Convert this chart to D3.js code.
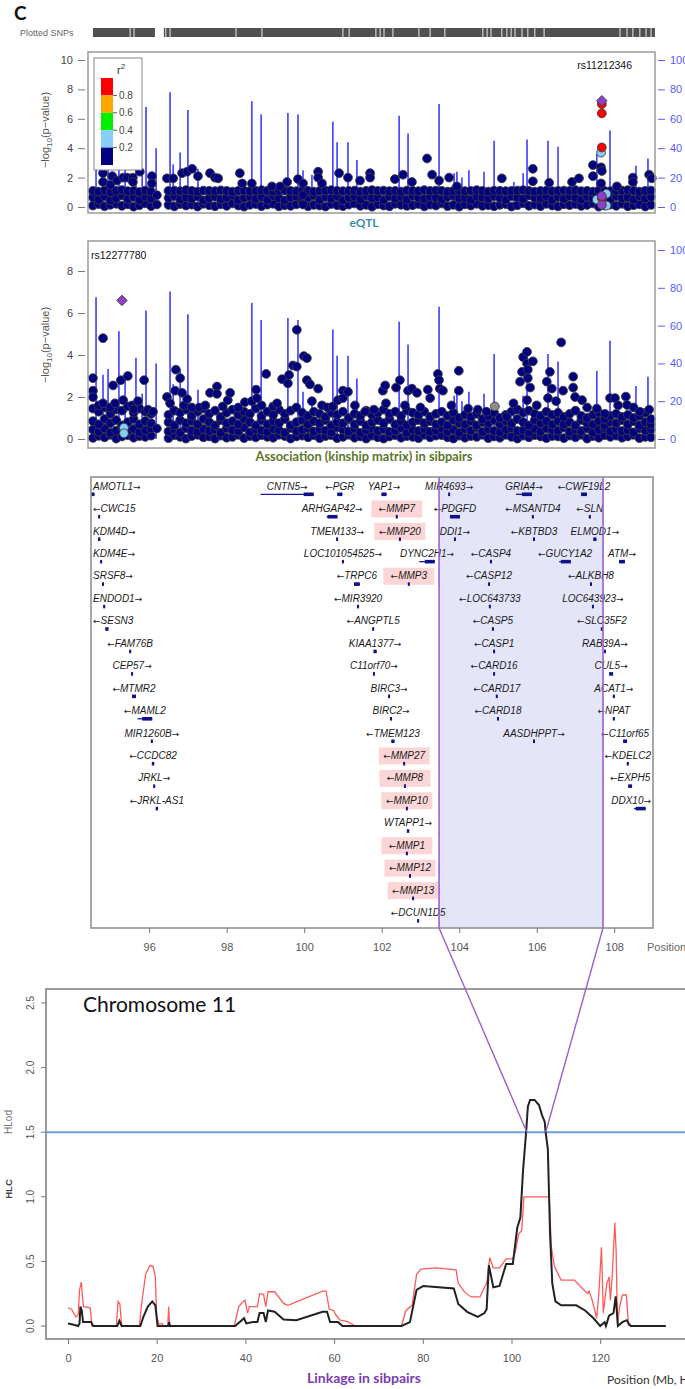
<!DOCTYPE html>
<html>
<head>
<meta charset="utf-8">
<script src="https://cdn.jsdelivr.net/npm/d3@7"></script>
<style>
body { margin: 0; background: #fff; }
svg { display: block; font-family: "Liberation Sans", Arial, sans-serif; }
</style>
</head>
<body>
<svg id="chart" width="685" height="1389"></svg>
<script>
// ---------- data ----------
// plotted SNP coverage strip (Mb)
var snpCover = [[94.55, 96.15], [96.38, 109.05]];
var snpBreaks = [95.51, 95.61, 96.43, 96.54, 98.24, 98.91, 101.0, 101.16, 101.85, 101.96, 102.06, 102.29,
  102.96, 103.25, 103.63, 104.61, 104.72, 104.82, 105.10, 105.23, 105.34, 105.44, 105.62, 105.77,
  105.95, 106.19, 108.15, 108.33, 108.48, 108.66, 108.82, 108.95];

// recombination rate spikes (cM/Mb)
var recombPos = [94.63, 94.81, 94.94, 95.22, 95.38, 95.66, 95.82, 95.92, 96.18, 96.54, 96.62, 96.80, 97.00, 97.26,
  98.65, 98.89, 99.58, 99.84, 99.97, 100.20, 100.74, 100.85, 101.13, 101.36, 102.45, 102.68, 103.48, 103.87,
  103.94, 104.07, 104.25, 104.64, 104.90, 105.41, 105.65, 105.75, 106.29, 106.55, 107.55, 107.89, 108.56, 108.87];
var recombRate = [75, 34, 37, 57, 35, 43, 24, 68, 40, 78, 29, 37, 66, 26, 72, 63, 64, 63, 25, 22, 58, 44, 44, 32,
  62, 50, 70, 23, 24, 20, 25, 24, 45, 17, 23, 46, 45, 41, 36, 52, 28, 33];

// dense low-signal SNPs, one value per 0.15 Mb bin starting at 94.55
var bandStart = 94.55, bandStep = 0.15;
var eqtlBandTop = [1.10,1.05,1.12,1.00,1.10,1.15,1.08,1.10,1.02,1.12, 1.05,null,null,1.10,1.12,1.08,1.15,1.10,1.05,1.12,
  1.10,1.08,1.13,1.10,1.05,1.10,1.12,1.08,1.10,1.15, 1.10,1.05,1.10,1.12,1.10,1.08,1.12,1.10,1.05,1.10,
  1.12,1.15,1.10,1.08,1.10,1.12,1.05,1.10,1.15,1.10, 1.12,1.08,1.10,1.05,1.12,1.10,1.08,1.15,1.10,1.12,
  1.10,1.05,1.10,1.12,1.08,1.10,1.15,1.10,1.05,1.12, 1.10,1.08,1.10,1.12,1.15,1.10,1.05,1.10,1.12,1.08,
  1.10,1.12,1.10,1.15,1.08,1.10,1.05,1.12,1.10,1.08, 1.10,1.12,1.15,1.10,1.05,1.10,1.12];
var eqtlBandMid = [0.65,0.50,0.72,0.45,0.60,0.78,0.55,0.68,0.48,0.70, 0.58,null,null,0.62,0.75,0.50,0.66,0.58,0.72,0.45,
  0.60,0.70,0.52,0.65,0.78,0.48,0.62,0.70,0.55,0.68, 0.50,0.74,0.60,0.45,0.66,0.72,0.55,0.62,0.78,0.50,
  0.68,0.58,0.72,0.46,0.64,0.70,0.52,0.76,0.60,0.66, 0.48,0.72,0.58,0.68,0.50,0.75,0.62,0.55,0.70,0.64,
  0.52,0.68,0.76,0.58,0.62,0.48,0.70,0.65,0.56,0.74, 0.60,0.50,0.72,0.66,0.54,0.78,0.62,0.58,0.70,0.48,
  0.68,0.55,0.74,0.62,0.50,0.70,0.58,0.76,0.64,0.52, 0.72,0.60,0.66,0.50,0.74,0.58,0.68];
var eqtlBandLow = [0.10,0.20,0.05,0.15,0.22,0.08,0.18,0.02,0.12,0.25, 0.06,null,null,0.14,0.04,0.20,0.10,0.16,0.03,0.22,
  0.12,0.05,0.18,0.08,0.24,0.10,0.02,0.15,0.20,0.06, 0.16,0.22,0.04,0.12,0.08,0.18,0.25,0.05,0.14,0.10,
  0.03,0.20,0.12,0.06,0.16,0.24,0.08,0.14,0.02,0.18, 0.10,0.05,0.22,0.15,0.08,0.12,0.20,0.04,0.16,0.10,
  0.24,0.06,0.14,0.02,0.18,0.10,0.22,0.08,0.12,0.05, 0.15,0.20,0.03,0.12,0.25,0.08,0.16,0.06,0.22,0.10,
  0.04,0.18,0.12,0.20,0.07,0.14,0.24,0.02,0.10,0.16, 0.08,0.22,0.05,0.12,0.18,0.03,0.14];

var assocBandTop = [1.45,1.30,1.50,1.20,1.40,1.35,1.55,1.25,1.45,1.30, 1.20,null,null,1.15,1.35,1.25,1.40,1.10,1.30,1.45,
  1.20,1.35,1.05,1.25,1.40,1.15,1.30,1.20,1.45,1.10, 1.30,1.15,1.40,1.20,1.35,1.50,1.25,1.10,1.30,1.20,
  1.05,1.25,1.15,1.30,1.00,1.20,1.10,1.35,1.15,1.25, 1.40,1.20,1.30,1.10,1.35,1.25,1.15,1.30,1.05,1.20,
  1.30,1.10,1.25,1.00,1.15,1.05,1.20,0.95,1.10,1.25, 1.00,1.15,1.30,1.40,1.25,1.35,1.20,1.10,1.30,1.15,
  1.25,1.05,1.20,1.35,1.10,1.00,1.15,1.25,0.95,1.10, 1.20,1.05,1.15,1.00,1.10,1.25,0.95];
var assocBandHi = [0.85,0.70,0.95,0.75,0.90,0.65,0.80,0.95,0.70,0.85, 0.75,null,null,0.80,0.65,0.90,0.75,0.85,0.70,0.95,
  0.80,0.65,0.90,0.75,0.85,0.70,0.95,0.80,0.65,0.90, 0.70,0.85,0.75,0.95,0.65,0.80,0.90,0.70,0.85,0.75,
  0.90,0.65,0.80,0.75,0.95,0.70,0.85,0.65,0.80,0.90, 0.75,0.95,0.70,0.85,0.65,0.80,0.90,0.75,0.85,0.70,
  0.80,0.65,0.90,0.75,0.70,0.85,0.65,0.80,0.75,0.90, 0.70,0.85,0.75,0.95,0.80,0.65,0.90,0.75,0.85,0.70,
  0.85,0.70,0.80,0.65,0.90,0.75,0.70,0.85,0.65,0.80, 0.75,0.90,0.70,0.85,0.65,0.80,0.70];
var assocBandMid = [0.45,0.35,0.50,0.30,0.40,0.55,0.38,0.48,0.32,0.42, 0.50,null,null,0.36,0.46,0.30,0.52,0.40,0.34,0.48,
  0.38,0.44,0.30,0.50,0.42,0.36,0.54,0.32,0.46,0.40, 0.34,0.48,0.42,0.30,0.52,0.38,0.44,0.50,0.36,0.46,
  0.40,0.32,0.55,0.44,0.36,0.48,0.30,0.42,0.50,0.38, 0.46,0.34,0.40,0.52,0.30,0.44,0.38,0.48,0.35,0.42,
  0.50,0.36,0.44,0.30,0.48,0.40,0.54,0.34,0.46,0.38, 0.32,0.45,0.52,0.38,0.42,0.30,0.48,0.36,0.50,0.44,
  0.40,0.54,0.34,0.46,0.38,0.50,0.30,0.44,0.52,0.36, 0.48,0.38,0.42,0.32,0.50,0.40,0.46];
var assocBandLow = [0.05,0.15,0.08,0.20,0.02,0.12,0.18,0.06,0.14,0.10, 0.16,null,null,0.04,0.18,0.10,0.02,0.14,0.20,0.08,
  0.12,0.02,0.16,0.06,0.10,0.20,0.04,0.14,0.08,0.18, 0.10,0.06,0.20,0.14,0.02,0.12,0.16,0.08,0.18,0.04,
  0.14,0.18,0.04,0.10,0.20,0.06,0.12,0.02,0.16,0.08, 0.02,0.12,0.18,0.06,0.14,0.10,0.04,0.20,0.08,0.16,
  0.18,0.08,0.02,0.16,0.06,0.14,0.10,0.20,0.04,0.12, 0.06,0.20,0.10,0.02,0.16,0.08,0.18,0.12,0.04,0.14,
  0.12,0.04,0.16,0.08,0.20,0.02,0.14,0.06,0.18,0.10, 0.16,0.06,0.12,0.20,0.04,0.10,0.08];

// eQTL SNPs above the band: [Mb, -log10 p]
var eqtlHits = [[94.81,2.3],[94.81,1.7],[95.0,1.5],[95.05,2.1],[95.17,1.8],[95.33,2.0],[95.43,2.0],[95.58,2.0],[95.58,1.7],
  [95.76,2.4],[96.07,2.1],[96.07,1.6],[96.20,0.8],[96.20,0.17],[96.46,1.95],[96.62,1.95],[96.85,2.3],[96.98,2.4],
  [97.11,2.6],[97.26,2.1],[97.57,2.3],[97.70,2.0],[97.78,1.95],[98.34,2.3],[98.40,1.6],[98.65,1.6],[99.17,1.4],
  [99.38,1.4],[99.56,1.7],[99.84,1.9],[99.97,1.6],[99.97,0.8],[99.97,0.17],[100.36,2.4],[100.36,2.0],[100.46,1.6],
  [100.90,2.3],[101.13,2.0],[101.44,1.8],[101.70,2.3],[101.70,2.0],[102.34,1.9],[102.55,2.2],[102.78,1.7],
  [103.17,3.3],[103.30,2.2],[103.48,1.8],[103.74,2.0],[103.94,1.4],[105.10,1.95],[105.90,2.6],[105.90,1.75],
  [106.32,1.65],[106.91,1.7],[107.09,1.95],[107.45,2.85],[107.45,2.1],[107.66,2.7],[107.66,1.6],[107.68,2.45],
  [108.07,1.4],[108.48,2.0],[108.48,1.7],[108.90,2.2],[108.97,1.95]];
// eQTL SNPs coloured by LD (r2) with rs11212346
var eqtlLdPos = [107.55, 107.80, 107.80, 107.66, 107.68, 107.68, 107.68, 107.68, 107.68, 107.68];
var eqtlLdP   = [0.5,    0.9,    0.1,    3.7,    0.6,    4.05,   6.37,   7.0,    0.75,   0.14];
var eqtlLdR2  = [0.3,    0.3,    0.3,    0.3,    0.9,    0.9,    0.9,    0.9,    1,      1];
var eqtlLead = { name: "rs11212346", pos: 107.68, p: 7.23 };

// sibpair association SNPs above the band
var assocHits = [[94.55,2.9],[94.55,2.3],[94.55,1.99],[94.7,1.6],[94.81,4.8],[94.81,1.7],[95.0,1.5],[95.07,2.55],
  [95.12,1.7],[95.27,2.8],[95.33,1.85],[95.45,3.0],[95.56,1.6],[95.6,1.4],[95.71,1.8],[95.87,2.8],[95.97,1.4],
  [96.10,1.3],[96.20,0.5],[96.46,2.0],[96.54,1.7],[96.67,2.3],[96.69,3.3],[96.80,2.9],[96.85,2.2],[96.9,1.6],
  [96.98,1.9],[97.1,1.5],[97.29,1.5],[97.45,1.6],[97.57,2.2],[97.75,2.5],[97.75,2.15],[97.9,1.55],[98.03,1.85],
  [98.09,2.2],[98.3,1.5],[98.47,1.75],[98.65,1.8],[98.76,2.35],[98.78,1.95],[98.9,1.6],[99.02,3.1],[99.20,1.55],
  [99.3,1.7],[99.43,2.85],[99.58,2.65],[99.61,3.05],[99.71,3.5],[99.81,3.45],[99.81,5.2],[99.99,3.95],
  [100.07,3.85],[100.07,2.8],[100.15,2.6],[100.2,1.8],[100.36,2.4],[100.46,1.6],[100.6,1.5],[100.74,1.55],
  [100.87,1.85],[101.0,2.3],[101.0,1.95],[101.13,2.25],[101.31,1.6],[101.57,1.3],[101.8,1.4],[102.03,2.3],
  [102.09,2.55],[102.11,1.7],[102.37,2.45],[102.47,2.8],[102.6,1.6],[102.68,2.3],[102.78,2.4],[102.91,2.2],
  [103.0,1.5],[103.19,2.35],[103.25,1.95],[103.45,3.1],[103.48,2.8],[103.50,2.4],[103.58,2.3],[103.8,1.6],
  [103.99,3.25],[103.99,2.3],[104.23,1.45],[104.48,1.4],[104.7,1.3],[105.23,1.05],[105.4,1.7],[105.57,2.73],
  [105.62,3.2],[105.65,3.9],[105.75,4.15],[105.75,3.6],[105.75,1.85],[105.77,3.3],[105.77,2.9],[105.83,2.45],
  [105.90,3.7],[106.0,1.6],[106.26,2.73],[106.29,1.95],[106.34,3.2],[106.39,2.4],[106.5,1.8],[106.63,4.6],
  [106.68,2.3],[106.94,2.97],[106.94,2.45],[106.99,2.0],[107.17,1.85],[107.3,1.5],[107.55,1.45],[107.76,1.2],
  [107.89,1.95],[108.02,1.95],[108.10,1.6],[108.30,2.02],[108.33,1.62],[108.5,1.5],[108.66,1.3],[108.90,1.4]];
var assocLdPos = [95.35, 95.35, 104.92];
var assocLdP   = [0.54,  0.27,  1.55];
var assocLdR2  = [0.3,   0.3,   null];
var assocLead = { name: "rs12277780", pos: 95.30, p: 6.6 };

// genes: name, midpoint (Mb), row, strand, length (Mb), MMP highlight
var geneNames = ["AMOTL1","CNTN5","PGR","YAP1","MIR4693","GRIA4","CWF19L2",
  "CWC15","ARHGAP42","MMP7","PDGFD","MSANTD4","SLN",
  "KDM4D","TMEM133","MMP20","DDI1","KBTBD3","ELMOD1",
  "KDM4E","LOC101054525","DYNC2H1","CASP4","GUCY1A2","ATM",
  "SRSF8","TRPC6","MMP3","CASP12","ALKBH8",
  "ENDOD1","MIR3920","LOC643733","LOC643923",
  "SESN3","ANGPTL5","CASP5","SLC35F2",
  "FAM76B","KIAA1377","CASP1","RAB39A",
  "CEP57","C11orf70","CARD16","CUL5",
  "MTMR2","BIRC3","CARD17","ACAT1",
  "MAML2","BIRC2","CARD18","NPAT",
  "MIR1260B","TMEM123","AASDHPPT","C11orf65",
  "CCDC82","MMP27","KDELC2",
  "JRKL","MMP8","EXPH5",
  "JRKL-AS1","MMP10","DDX10",
  "WTAPP1","MMP1","MMP12","MMP13","DCUN1D5"];
var genePos = [94.55,99.56,100.92,102.06,103.74,105.67,107.22,
  94.71,100.72,102.39,103.89,105.90,107.37,
  94.71,100.85,102.47,103.89,105.93,107.50,
  94.76,101.00,103.17,104.82,106.73,108.20,
  94.81,101.36,102.70,104.77,107.40,
  94.84,101.39,104.79,107.45,
  94.91,101.78,104.87,107.68,
  95.51,101.83,104.90,107.76,
  95.56,101.80,104.90,107.92,
  95.61,102.19,104.97,107.99,
  95.89,102.24,105.00,107.99,
  96.07,102.29,105.93,108.28,
  96.10,102.58,108.35,
  96.13,102.60,108.41,
  96.20,102.65,108.66,
  102.68,102.65,102.73,102.81,102.94];
var geneRow = [0,0,0,0,0,0,0, 1,1,1,1,1,1, 2,2,2,2,2,2, 3,3,3,3,3,3, 4,4,4,4,4, 5,5,5,5, 6,6,6,6, 7,7,7,7,
  8,8,8,8, 9,9,9,9, 10,10,10,10, 11,11,11,11, 12,12,12, 13,13,13, 14,14,14, 15,16,17,18,19];
var geneStrand = ["+","+","-","+","+","+","-", "-","+","-","-","-","-", "+","+","-","+","-","+",
  "+","+","+","-","-","+", "+","-","-","-","-", "+","-","-","+", "-","-","-","-", "-","+","-","+",
  "+","+","-","+", "-","+","-","+", "-","+","-","-", "+","-","+","-", "-","-","-", "+","-","-",
  "-","-","+", "+","-","-","-","-"];
var geneLen = [0.08,1.37,0.13,0.13,0.02,0.41,0.15, 0.02,0.28,0.02,0.26,0.03,0.02, 0.06,0.02,0.05,0.02,0.03,0.08,
  0.02,0.05,0.40,0.05,0.30,0.15, 0.02,0.15,0.02,0.02,0.05, 0.05,0.02,0.02,0.02, 0.08,0.03,0.04,0.05,
  0.05,0.08,0.04,0.04, 0.05,0.03,0.02,0.10, 0.10,0.05,0.02,0.05, 0.38,0.05,0.02,0.05, 0.02,0.08,0.05,0.10,
  0.06,0.04,0.05, 0.02,0.02,0.10, 0.06,0.02,0.30, 0.06,0.04,0.02,0.04,0.04];
var mmpGenes = ["MMP7","MMP20","MMP3","MMP27","MMP8","MMP10","MMP1","MMP12","MMP13"];
var focusRegion = [103.48, 107.71];
var geneTicks = [96, 98, 100, 102, 104, 106, 108];

// chromosome 11 linkage scan: [Mb, score]
var hlodPts = [[0,0.02],[1.3,0.01],[2.3,0],[2.6,0.02],[2.8,0.15],[3.1,0.12],[3.4,0.03],[5.2,0.03],[5.7,0],[11.1,0],
  [11.6,0.04],[12.1,0],[16.3,0],[17,0.07],[18,0.15],[19,0.19],[19.7,0.16],[20.2,0],[22.6,0],[22.8,0.03],[23,0],
  [37.7,0],[39.7,0.06],[40.2,0.02],[41.7,0.03],[42.7,0.03],[43.2,0.1],[44.1,0.1],[44.6,0.03],[45.1,0.12],
  [46.6,0.11],[48.6,0.05],[51.5,0.045],[57.4,0.11],[58.4,0.11],[59.1,0.03],[60.9,0.03],[61.9,0],[75.2,0],
  [77.1,0.03],[78.6,0.28],[80.1,0.31],[87,0.29],[88,0.17],[90,0.11],[92.4,0.07],[93.9,0.1],[94.4,0.13],
  [94.9,0.47],[95.9,0.3],[97.3,0.31],[98.8,0.48],[100.3,0.48],[101.3,0.76],[102,0.84],[102.6,1.2],[103.3,1.5],
  [103.7,1.7],[104.2,1.75],[105.2,1.75],[106.2,1.71],[106.9,1.63],[107.5,1.58],[107.7,1.5],[108.2,1.37],
  [108.7,0.71],[109.2,0.33],[109.9,0.19],[111.2,0.16],[114.6,0.16],[116.6,0.12],[118.5,0.06],[119.5,0.02],
  [120,0],[121,0.03],[121.3,0],[122,0.08],[123,0.1],[123.5,0.23],[124,0],[125,0.03],[126,0.045],[126.4,0.02],
  [126.9,0],[134.8,0]];
var hlcPts = [[0,0.14],[0.8,0.13],[1.3,0.1],[1.8,0.07],[2.3,0.085],[2.6,0.28],[3.0,0.34],[3.3,0.21],[3.5,0.15],
  [5.0,0.14],[5.4,0],[10.9,0],[11.3,0.19],[11.7,0.17],[12.1,0],[16.1,0],[16.6,0.17],[17.5,0.4],[18.5,0.47],
  [19.2,0.46],[19.7,0.38],[20,0.07],[20.5,0.015],[21.2,0.02],[21.5,0],[22.5,0],[22.7,0.15],[22.9,0],[37.5,0],
  [38.5,0.15],[39.5,0.19],[39.9,0.2],[40.5,0.1],[40.9,0.15],[42.7,0.15],[43.2,0.25],[44.1,0.245],[44.6,0.15],
  [45.1,0.265],[46.6,0.265],[48.6,0.175],[49.6,0.16],[57.4,0.27],[58.2,0.27],[58.9,0.13],[59.9,0.12],
  [60.4,0.085],[61.4,0.045],[62.9,0.035],[64.3,0.01],[64.5,0],[75.2,0],[76.2,0.12],[77.6,0.16],[78.6,0.4],
  [79.6,0.44],[83,0.45],[87.5,0.435],[88,0.33],[89.5,0.26],[90.9,0.225],[92.9,0.225],[93.9,0.3],[94.4,0.33],
  [95.1,0.53],[95.9,0.45],[97.3,0.45],[98.8,0.52],[100.3,0.52],[100.9,0.58],[101.6,0.71],[102.3,0.74],
  [102.8,1.0],[108.5,1.0],[109.0,0.61],[109.7,0.46],[111.2,0.355],[114.2,0.355],[115.7,0.3],[117.2,0.25],
  [117.5,0.27],[118.2,0.2],[119.2,0.06],[119.7,0.25],[120.3,0.61],[120.7,0.1],[121.5,0.33],[122,0.38],
  [122.3,0.2],[122.7,0.38],[123.3,0.8],[123.6,0.58],[123.9,0.02],[124.4,0.15],[125,0.24],[125.9,0.24],[126.4,0]];
var hlodThreshold = 1.5;

// ---------- drawing ----------
var svg = d3.select("#chart");
var x = d3.scaleLinear().domain([94.5, 109.0]).range([91, 653]);

function ldColor(r2) {
  if (r2 === null) return "#8c8c8c";
  if (r2 >= 1) return "#9040c8";
  if (r2 > 0.8) return "#ff0000";
  if (r2 > 0.6) return "#ffa500";
  if (r2 > 0.4) return "#00ee00";
  if (r2 > 0.2) return "#87cefa";
  return "#000080";
}

function bandPoints(rows) {
  var pts = [];
  rows.forEach(function(row) {
    row.forEach(function(v, i) {
      if (v !== null) pts.push([bandStart + i * bandStep, v]);
    });
  });
  return pts;
}

svg.append("text").attr("x", 14).attr("y", 20)
  .style("font-family", "Lato, 'Open Sans', sans-serif").style("font-weight", "bold")
  .attr("font-size", 19).attr("fill", "#111").text("C");

// plotted SNPs strip
svg.append("text").attr("x", 20).attr("y", 36).attr("font-size", 9).attr("fill", "#666").text("Plotted SNPs");
svg.selectAll("rect.cover").data(snpCover).enter().append("rect")
  .attr("x", function(d) { return x(d[0]); })
  .attr("width", function(d) { return x(d[1]) - x(d[0]); })
  .attr("y", 28).attr("height", 9).attr("fill", "#505050");
svg.selectAll("line.brk").data(snpBreaks).enter().append("line")
  .attr("x1", function(d) { return x(d); }).attr("x2", function(d) { return x(d); })
  .attr("y1", 28).attr("y2", 37).attr("stroke", "#d0d0d0").attr("stroke-width", 1.2);

function snpPanel(o) {
  var g = svg.append("g");
  var yL = d3.scaleLinear().domain([0, 10]).range([o.y0, o.y10]);
  var yR = d3.scaleLinear().domain([0, 100]).range([o.y0, o.yR100]);

  g.selectAll("line.recomb").data(d3.zip(recombPos, recombRate)).enter().append("line")
    .attr("x1", function(d) { return x(d[0]); }).attr("x2", function(d) { return x(d[0]); })
    .attr("y1", yR(0)).attr("y2", function(d) { return yR(d[1]); })
    .attr("stroke", "#4848ff").attr("stroke-width", 1.7);

  var navy = bandPoints(o.bands).concat(o.hits);
  g.selectAll("circle.snp").data(navy).enter().append("circle")
    .attr("cx", function(d) { return x(d[0]); })
    .attr("cy", function(d) { return yL(d[1]); })
    .attr("r", 4.4).attr("fill", "#000080").attr("stroke", "#3d3d3d").attr("stroke-width", 0.9);

  var ld = d3.zip(o.ldPos, o.ldP, o.ldR2);
  g.selectAll("circle.ld").data(ld).enter().append("circle")
    .attr("cx", function(d) { return x(d[0]); })
    .attr("cy", function(d) { return yL(d[1]); })
    .attr("r", 4.4).attr("fill", function(d) { return ldColor(d[2]); })
    .attr("stroke", "#3d3d3d").attr("stroke-width", 0.9);

  g.append("path")
    .attr("d", d3.symbol().type(d3.symbolDiamond2).size(70)())
    .attr("transform", "translate(" + x(o.lead.pos) + "," + yL(o.lead.p) + ")")
    .attr("fill", "#9040c8").attr("stroke", "#3d3d3d").attr("stroke-width", 0.9);

  g.append("rect").attr("x", 88).attr("y", o.top).attr("width", 567).attr("height", o.bottom - o.top)
    .attr("fill", "none").attr("stroke", "#9a9a9a").attr("stroke-width", 1.5);

  var la = g.append("g").attr("transform", "translate(85,0)")
    .call(d3.axisLeft(yL).tickValues(o.leftTicks).tickSize(7).tickPadding(5));
  la.select(".domain").remove();
  la.selectAll("line").attr("stroke", "#777");
  la.selectAll("text").attr("fill", "#444").attr("font-size", 11).style("font-family", "Liberation Sans, Arial");

  var ra = g.append("g").attr("transform", "translate(658,0)")
    .call(d3.axisRight(yR).tickValues([0, 20, 40, 60, 80, 100]).tickSize(7).tickPadding(5));
  ra.select(".domain").remove();
  ra.selectAll("line").attr("stroke", "#5a5aff");
  ra.selectAll("text").attr("fill", "#5a5aff").attr("font-size", 11).style("font-family", "Liberation Sans, Arial");

  var t = g.append("text").attr("transform", "translate(49," + o.titleY + ") rotate(-90)")
    .attr("text-anchor", "middle").attr("font-size", 11).attr("fill", "#555");
  t.append("tspan").text("\u2212log");
  t.append("tspan").attr("font-size", 8).attr("dy", 3).text("10");
  t.append("tspan").attr("dy", -3).text("(p\u2212value)");

  var lab = g.append("text").attr("y", o.labelY).attr("font-size", 10.5).attr("fill", "#111").text(o.lead.name);
  if (o.labelRight) lab.attr("x", 632).attr("text-anchor", "end");
  else lab.attr("x", 91);
  return g;
}

var p1 = snpPanel({
  top: 52, bottom: 213, y0: 207, y10: 60, yR100: 60, leftTicks: [0, 2, 4, 6, 8, 10],
  bands: [eqtlBandLow, eqtlBandMid, eqtlBandTop], hits: eqtlHits,
  ldPos: eqtlLdPos, ldP: eqtlLdP, ldR2: eqtlLdR2, lead: eqtlLead,
  titleY: 130, labelY: 69, labelRight: true
});

// r2 legend
var legR2 = [0.8, 0.6, 0.4, 0.2];
var legY = d3.scaleLinear().domain([1, 0]).range([78, 165]);
p1.append("rect").attr("x", 94).attr("y", 58).attr("width", 48).attr("height", 112)
  .attr("fill", "#fff").attr("stroke", "#888").attr("stroke-width", 1);
p1.selectAll("rect.leg").data([1, 0.8, 0.6, 0.4, 0.2]).enter().append("rect")
  .attr("x", 101).attr("width", 12)
  .attr("y", function(d) { return legY(d); })
  .attr("height", function(d) { return legY(0) - legY(0.2); })
  .attr("fill", function(d) { return ldColor(d - 0.1); });
p1.selectAll("line.legt").data(legR2).enter().append("line")
  .attr("x1", 113).attr("x2", 117)
  .attr("y1", function(d) { return legY(d); }).attr("y2", function(d) { return legY(d); })
  .attr("stroke", "#555");
p1.selectAll("text.legt").data(legR2).enter().append("text")
  .attr("x", 119).attr("y", function(d) { return legY(d) + 3.5; })
  .attr("font-size", 10).attr("fill", "#444").text(function(d) { return d.toFixed(1); });
var r2t = p1.append("text").attr("x", 117).attr("y", 74).attr("font-size", 11).attr("fill", "#333");
r2t.append("tspan").text("r");
r2t.append("tspan").attr("font-size", 8).attr("dy", -5).text("2");

svg.append("text").attr("x", 364).attr("y", 227).attr("text-anchor", "middle")
  .style("font-family", "Lato, sans-serif").style("font-weight", "bold")
  .attr("font-size", 12).attr("fill", "#3a8f9e").text("eQTL");

snpPanel({
  top: 241, bottom: 448, y0: 439, y10: 229, yR100: 250, leftTicks: [0, 2, 4, 6, 8],
  bands: [assocBandLow, assocBandMid, assocBandHi, assocBandTop], hits: assocHits,
  ldPos: assocLdPos, ldP: assocLdP, ldR2: assocLdR2, lead: assocLead,
  titleY: 345, labelY: 259, labelRight: false
});

svg.append("text").attr("x", 364).attr("y", 461).attr("text-anchor", "middle")
  .style("font-family", "Lato, sans-serif").style("font-weight", "bold")
  .attr("font-size", 12.8).attr("fill", "#5b7628").text("Association (kinship matrix) in sibpairs");

// ---------- gene panel ----------
var gTop = 477, gBottom = 928, rowY0 = 486, rowGap = 22.45;
var gp = svg.append("g");
gp.append("rect").attr("x", x(focusRegion[0])).attr("y", gTop)
  .attr("width", x(focusRegion[1]) - x(focusRegion[0])).attr("height", gBottom - gTop)
  .attr("fill", "#e5e5fa");

var genes = geneNames.map(function(n, i) {
  return { name: n, pos: genePos[i], row: geneRow[i], strand: geneStrand[i], len: geneLen[i],
    mmp: mmpGenes.indexOf(n) >= 0 };
});

gp.selectAll("rect.mmp").data(genes.filter(function(d) { return d.mmp; })).enter().append("rect")
  .attr("x", function(d) { return x(d.pos) - 25.5; }).attr("width", 51)
  .attr("y", function(d) { return rowY0 + d.row * rowGap - 8; }).attr("height", 17)
  .attr("fill", "#fcd6d6");

gp.selectAll("line.gbody").data(genes).enter().append("line")
  .attr("x1", function(d) { return x(d.pos - d.len / 2); })
  .attr("x2", function(d) { return x(d.pos + d.len / 2); })
  .attr("y1", function(d) { return rowY0 + d.row * rowGap + 8.3; })
  .attr("y2", function(d) { return rowY0 + d.row * rowGap + 8.3; })
  .attr("stroke", "#1a1a9a").attr("stroke-width", 1.3);
gp.selectAll("rect.gmark").data(genes).enter().append("rect")
  .attr("x", function(d) {
    var w = Math.max(2, Math.min(x(d.pos + d.len / 2) - x(d.pos - d.len / 2), 10));
    return d.len > 0.2 ? x(d.pos + d.len / 2) - w : x(d.pos) - w / 2; })
  .attr("width", function(d) { return Math.max(2, Math.min(x(d.pos + d.len / 2) - x(d.pos - d.len / 2), 10)); })
  .attr("y", function(d) { return rowY0 + d.row * rowGap + 6.5; }).attr("height", 3.6)
  .attr("fill", "#10108a");

// gene labels with strand arrows
gp.selectAll("text.gene").data(genes).enter().append("text")
  .attr("y", function(d) { return rowY0 + d.row * rowGap + 3.6; })
  .attr("font-size", 10).style("font-style", "italic").attr("fill", "#1a1a1a")
  .each(function(d) {
    var t = d3.select(this);
    if (d.strand === "-") t.append("tspan").style("font-family", "DejaVu Sans").style("font-style", "normal")
      .attr("font-size", 9).text("\u2190");
    t.append("tspan").text(d.name);
    if (d.strand === "+") t.append("tspan").style("font-family", "DejaVu Sans").style("font-style", "normal")
      .attr("font-size", 9).text("\u2192");
    var w = this.getComputedTextLength();
    var left = x(d.pos) - w / 2;
    if (left < 93) left = 93;
    if (left + w > 651) left = 651 - w;
    t.attr("x", left);
  });

gp.selectAll("line.focus").data(focusRegion).enter().append("line")
  .attr("x1", function(d) { return x(d); }).attr("x2", function(d) { return x(d); })
  .attr("y1", gTop).attr("y2", gBottom).attr("stroke", "#9a60d0").attr("stroke-width", 1.6);

gp.append("rect").attr("x", 91).attr("y", gTop).attr("width", 562).attr("height", gBottom - gTop)
  .attr("fill", "none").attr("stroke", "#8a8a8a").attr("stroke-width", 1.5);
var ga = gp.append("g").attr("transform", "translate(0," + gBottom + ")")
  .call(d3.axisBottom(x).tickValues(geneTicks).tickSize(5).tickPadding(10));
ga.select(".domain").remove();
ga.selectAll("line").attr("stroke", "#777");
ga.selectAll("text").attr("fill", "#555").attr("font-size", 11).style("font-family", "Liberation Sans, Arial");
gp.append("text").attr("x", 647).attr("y", 951).attr("font-size", 11).attr("fill", "#666")
  .text("Position on chr11 (Mb)");

// ---------- chromosome 11 linkage ----------
var xc = d3.scaleLinear().domain([0, 135]).range([68, 666.7]);
var yc = d3.scaleLinear().domain([0, 2.5]).range([1326, 1003]);
var cp = svg.append("g");

cp.append("rect").attr("x", 46).attr("y", 989).attr("width", 700).attr("height", 350)
  .attr("fill", "none").attr("stroke", "#7a7a7a").attr("stroke-width", 1.5);
cp.append("line").attr("x1", 46).attr("x2", 685).attr("y1", yc(hlodThreshold)).attr("y2", yc(hlodThreshold))
  .attr("stroke", "#6b9fd6").attr("stroke-width", 2);

var line = d3.line()
  .x(function(d) { return xc(d[0]); })
  .y(function(d) { return yc(d[1]); });
cp.append("path").datum(hlcPts).attr("d", line).attr("fill", "none")
  .attr("stroke", "#ff5a5a").attr("stroke-width", 1.3);
cp.append("path").datum(hlodPts).attr("d", line).attr("fill", "none")
  .attr("stroke", "#222").attr("stroke-width", 2);

// zoom lines from the gene panel window down to the linkage peak
cp.selectAll("line.zoom").data(focusRegion).enter().append("line")
  .attr("x1", function(d) { return x(d); }).attr("y1", gBottom)
  .attr("x2", function(d) { return xc(d); }).attr("y2", yc(hlodThreshold))
  .attr("stroke", "#9a60d0").attr("stroke-width", 1.4);

var cyTicks = [0, 0.5, 1, 1.5, 2, 2.5];
cp.selectAll("line.cyt").data(cyTicks).enter().append("line")
  .attr("x1", 41).attr("x2", 46)
  .attr("y1", function(d) { return yc(d); }).attr("y2", function(d) { return yc(d); })
  .attr("stroke", "#777");
cp.selectAll("text.cyt").data(cyTicks).enter().append("text")
  .attr("transform", function(d) { return "translate(34," + yc(d) + ") rotate(-90)"; })
  .attr("text-anchor", "middle").attr("font-size", 10).attr("fill", "#555")
  .text(function(d) { return d.toFixed(1); });
var ca = cp.append("g").attr("transform", "translate(0,1339)")
  .call(d3.axisBottom(xc).tickValues([0, 20, 40, 60, 80, 100, 120]).tickSize(5).tickPadding(10));
ca.select(".domain").remove();
ca.selectAll("line").attr("stroke", "#777");
ca.selectAll("text").attr("fill", "#555").attr("font-size", 11).style("font-family", "Liberation Sans, Arial");

cp.append("text").attr("transform", "translate(12,1122) rotate(-90)").attr("text-anchor", "middle")
  .attr("font-size", 10).attr("fill", "#777").text("HLod");
cp.append("text").attr("transform", "translate(12,1189) rotate(-90)").attr("text-anchor", "middle")
  .attr("font-size", 9.5).attr("font-weight", "bold").attr("fill", "#444").text("HLC");
cp.append("text").attr("x", 83).attr("y", 1012)
  .style("font-family", "Lato, 'Open Sans', sans-serif").attr("font-size", 21).attr("fill", "#111")
  .text("Chromosome 11");
cp.append("text").attr("x", 364).attr("y", 1383).attr("text-anchor", "middle")
  .style("font-family", "Lato, sans-serif").style("font-weight", "bold")
  .attr("font-size", 14).attr("fill", "#7a3cb0").text("Linkage in sibpairs");
cp.append("text").attr("x", 607).attr("y", 1384)
  .style("font-family", "Lato, sans-serif").attr("font-size", 12).attr("fill", "#333")
  .text("Position (Mb, Hg19)");
</script>
</body>
</html>
